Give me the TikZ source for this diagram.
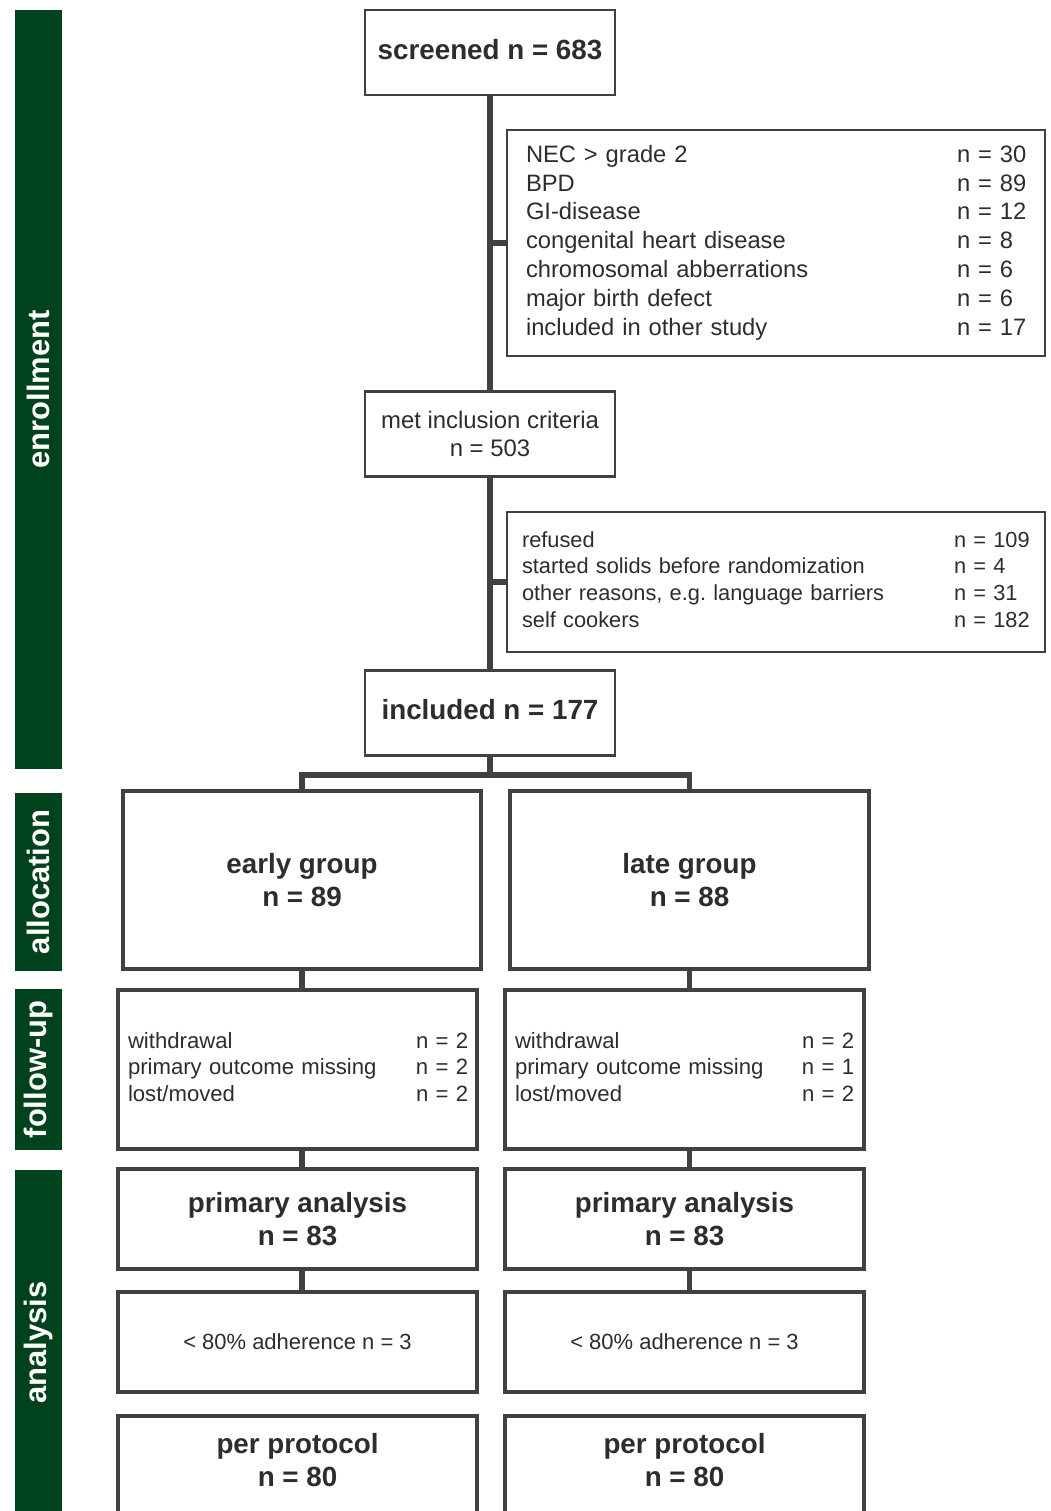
\documentclass[tikz,border=0pt]{standalone}
\usepackage{fontspec}
\setmainfont{Liberation Sans}
\usepackage{tikz}

\definecolor{sidegreen}{RGB}{0,66,28}
\definecolor{linegrey}{RGB}{62,66,66}
\definecolor{textgrey}{RGB}{45,45,45}

\tikzstyle{sidebar} = [rectangle, rotate=90, fill=sidegreen, text=white, inner sep=0pt, minimum height=4.7mm, font=\bfseries\fontsize{8.8}{10}\selectfont]
\tikzstyle{mainbox} = [rectangle, draw=linegrey, line width=0.85pt, fill=white, text=textgrey, minimum width=25mm, minimum height=8.5mm, align=center]
\tikzstyle{listbox} = [rectangle, draw=linegrey, line width=0.7pt, fill=white, text=textgrey, minimum width=53.8mm]
\tikzstyle{groupbox} = [rectangle, draw=linegrey, line width=1pt, fill=white, text=textgrey, minimum width=35.9mm, align=center, font=\bfseries\fontsize{7.9}{9.4}\selectfont]
\tikzstyle{losebox} = [rectangle, draw=linegrey, line width=1.15pt, fill=white, text=textgrey, minimum height=15.9mm, text width=33.9mm, inner xsep=1mm, font=\fontsize{6.3}{7.55}\selectfont]
\tikzstyle{conn} = [draw=linegrey, line width=1.55pt]

\begin{document}
\begin{tikzpicture}[x=0.1mm, y=-0.1mm]
\useasboundingbox (0,0) rectangle (1051,1511);

% phase bars
\node (enroll) [sidebar, minimum width=75.9mm] at (38.5,389.5) {enrollment};
\node (alloc) [sidebar, minimum width=17.8mm] at (38.5,882) {allocation};
\node (follow) [sidebar, minimum width=16.1mm] at (38.5,1069.5) {follow-up};
\node (analys) [sidebar, minimum width=34.5mm] at (38.5,1342.5) {analysis};

% enrollment
\node (screen) [mainbox, font=\bfseries\fontsize{7.9}{9.4}\selectfont, text depth=0.6mm] at (490,52.5) {screened n = 683};
\node (exclA) [listbox, minimum height=22.6mm, text width=50mm, inner xsep=1.9mm, font=\fontsize{6.75}{8.2}\selectfont] at (776,243) {%
\begin{tabular}{@{}p{43.1mm}@{}l@{}}
NEC > grade 2 & n = 30\\
BPD & n = 89\\
GI-disease & n = 12\\
congenital heart disease & n = 8\\
chromosomal abberrations & n = 6\\
major birth defect & n = 6\\
included in other study & n = 17
\end{tabular}};
\node (incl) [mainbox, font=\fontsize{6.8}{8}\selectfont] at (490,434) {met inclusion criteria\\n = 503};
\node (exclB) [listbox, minimum height=14mm, text width=50.8mm, inner xsep=1.5mm, font=\fontsize{6.2}{7.6}\selectfont] at (776,582) {%
\begin{tabular}{@{}p{43.2mm}@{}l@{}}
refused & n = 109\\
started solids before randomization & n = 4\\
other reasons, e.g.\ language barriers & n = 31\\
self cookers & n = 182
\end{tabular}};
\node (included) [mainbox, font=\bfseries\fontsize{7.9}{9.4}\selectfont, text depth=0.6mm] at (490,712.5) {included n = 177};

% allocation
\node (early) [groupbox, minimum height=17.8mm, minimum width=35.8mm] at (302,880) {early group\\n = 89};
\node (late) [groupbox, minimum height=17.8mm] at (689.5,880) {late group\\n = 88};

% follow-up
\node (fuE) [losebox] at (297.5,1069.5) {%
\begin{tabular}{@{}p{28.8mm}@{}l@{}}
withdrawal & n = 2\\
primary outcome missing & n = 2\\
lost/moved & n = 2
\end{tabular}};
\node (fuL) [losebox] at (684.5,1069.5) {%
\begin{tabular}{@{}p{28.7mm}@{}l@{}}
withdrawal & n = 2\\
primary outcome missing & n = 1\\
lost/moved & n = 2
\end{tabular}};

% analysis
\node (paE) [groupbox, minimum height=10mm] at (297.5,1219) {primary analysis\\n = 83};
\node (paL) [groupbox, minimum height=10mm] at (684.5,1219) {primary analysis\\n = 83};
\node (adE) [groupbox, minimum height=10mm, font=\fontsize{6.25}{7.5}\selectfont] at (297.5,1342) {< 80\% adherence n = 3};
\node (adL) [groupbox, minimum height=10mm, font=\fontsize{6.25}{7.5}\selectfont] at (684.5,1342) {< 80\% adherence n = 3};
\node (ppE) [groupbox, anchor=north, inner ysep=1.8mm, text depth=20mm] at (297.5,1414) {per protocol\\n = 80};
\node (ppL) [groupbox, anchor=north, inner ysep=1.8mm, text depth=20mm] at (684.5,1414) {per protocol\\n = 80};

% connectors
\coordinate (split) at (490,775);
\draw [conn] (screen) -- (incl);
\draw [conn] (incl) -- (included);
\draw [conn] (exclA.west) -- (exclA.west -| screen.south);
\draw [conn] (exclB.west) -- (exclB.west -| incl.south);
\draw [conn] (included) -- (split);
\draw [conn] (early.north) |- (split) -| (late.north);
\draw [conn] (early.south) -- (early.south |- fuE.north);
\draw [conn] (late.south) -- (late.south |- fuL.north);
\draw [conn] (early.south |- fuE.south) -- (early.south |- paE.north);
\draw [conn] (late.south |- fuL.south) -- (late.south |- paL.north);
\draw [conn] (early.south |- paE.south) -- (early.south |- adE.north);
\draw [conn] (late.south |- paL.south) -- (late.south |- adL.north);

\end{tikzpicture}
\end{document}
